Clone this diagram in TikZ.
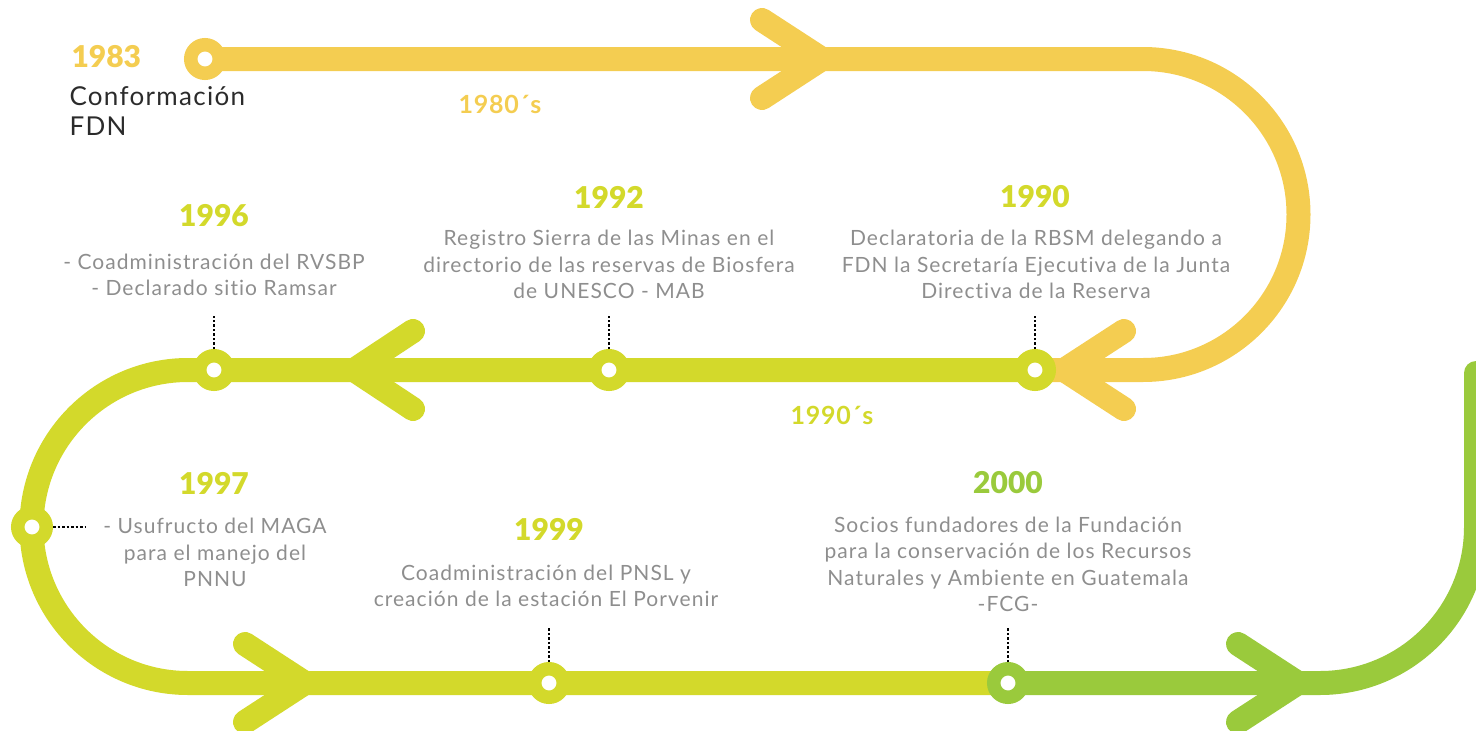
\documentclass[tikz,border=0pt]{standalone}
\usepackage{fontspec}
\setmainfont{Lato}
\newfontfamily\widefont{Lato}[LetterSpace=5, Ligatures=NoCommon]
\newfontfamily\decadefont{Lato}[LetterSpace=3]
\newfontfamily\heavyfont{Lato Black}
\usetikzlibrary{backgrounds}
\definecolor{cyel}{HTML}{F4CD51}
\definecolor{clime}{HTML}{D3D92B}
\definecolor{cgreen}{HTML}{9ACA3C}
\definecolor{ctext}{HTML}{8E8E8E}
\definecolor{cdark}{HTML}{2B2B2B}
\tikzstyle{track}=[line width=24pt]
\tikzstyle{chev}=[line width=24pt, line cap=round, line join=round]
\tikzstyle{ring}=[circle, fill=white, line width=13.5pt, minimum size=28.5pt, inner sep=0pt]
\tikzstyle{dotline}=[line width=2.5pt, dotted, black]
\tikzstyle{year}=[font=\heavyfont\fontsize{30}{30}\selectfont]
\tikzstyle{desc}=[align=center, text=ctext, font=\widefont\fontsize{21}{26.5}\selectfont]
\tikzstyle{decade}=[font=\decadefont\fontsize{25}{25}\selectfont\bfseries]

\begin{document}
\begin{tikzpicture}[x=1pt, y=-1pt]
\useasboundingbox (0,0) rectangle (1476,731);

\node[ring, draw=cyel] (c1983) at (205,59) {};
\node[ring, draw=clime] (c1990) at (1035,370) {};
\node[ring, draw=clime] (c1992) at (609,370) {};
\node[ring, draw=clime] (c1996) at (214,370) {};
\node[ring, draw=clime] (c1997) at (32,527) {};
\node[ring, draw=clime] (c1999) at (549,683) {};
\node[ring, draw=cgreen] (c2000) at (1008,683) {};

\coordinate (k1) at (1143,59);
\coordinate (k2) at (188,370);
\coordinate (k3) at (1320,683);
\coordinate (k4) at (1476,373);
\coordinate (a1) at (822,59);
\coordinate (a2) at (1064,370);
\coordinate (a3) at (354,370);
\coordinate (a4) at (305,683);
\coordinate (a5) at (1298,683);

\begin{scope}[on background layer]
\draw[track, cyel] (c1983.center) -- (k1) arc[start angle=-90, end angle=90, radius=155.5] -- (c1990.center);
\draw[track, clime] (c1990.center) -- (c1992.center) -- (c1996.center) -- (k2) arc[start angle=-90, end angle=-270, radius=156.5] -- (c1999.center) -- (c2000.center);
\draw[track, cgreen, line cap=round] (c2000.center) -- (k3) arc[start angle=90, end angle=0, radius=156] -- (k4);
\draw[chev, cyel] ([shift={(-60,-39)}]a1) -- (a1) -- ([shift={(-60,39)}]a1);
\draw[chev, cyel] ([shift={(60,-39)}]a2) -- (a2) -- ([shift={(60,39)}]a2);
\draw[chev, clime] ([shift={(59,-39)}]a3) -- (a3) -- ([shift={(59,39)}]a3);
\draw[chev, clime] ([shift={(-60,-39)}]a4) -- (a4) -- ([shift={(-60,39)}]a4);
\draw[chev, cgreen] ([shift={(-60,-39)}]a5) -- (a5) -- ([shift={(-60,39)}]a5);
\end{scope}

\coordinate (t1990) at (1035,316);
\coordinate (t1992) at (609,316);
\coordinate (t1996) at (214,316);
\coordinate (t1997) at (86,527);
\coordinate (t1999) at (549,628);
\coordinate (t2000) at (1008,627);
\draw[dotline] (c1990) -- (t1990);
\draw[dotline] (c1992) -- (t1992);
\draw[dotline] (c1996) -- (t1996);
\draw[dotline] (c1997) -- (t1997);
\draw[dotline] (c1999) -- (t1999);
\draw[dotline] (c2000) -- (t2000);

\node[year, text=cyel, anchor=west] (y1983) at (68,57) {1983};
\node[anchor=north west, align=left, text=cdark, font=\widefont\fontsize{26}{30}\selectfont] (d1983) at (66,83) {Conformación\\FDN};
\node[decade, text=cyel] (e1980) at (500,104) {1980´s};
\node[decade, text=clime] (e1990) at (832,415) {1990´s};

\node[year, text=clime] (y1990) at (1035,197) {1990};
\node[desc] (d1990) at (1036,264.5) {Declaratoria de la RBSM delegando a\\FDN la Secretaría Ejecutiva de la Junta\\Directiva de la Reserva};
\node[year, text=clime] (y1992) at (609,197) {1992};
\node[desc] (d1992) at (609,264.5) {Registro Sierra de las Minas en el\\directorio de las reservas de Biosfera\\de UNESCO - MAB};
\node[year, text=clime] (y1996) at (214,216) {1996};
\node[desc] (d1996) at (214,275) {- Coadministración del RVSBP\\- Declarado sitio Ramsar};
\node[year, text=clime] (y1997) at (214,483) {1997};
\node[desc] (d1997) at (215,552.5) {- Usufructo del MAGA\\para el manejo del\\PNNU};
\node[year, text=clime] (y1999) at (549,529) {1999};
\node[desc] (d1999) at (546,586) {Coadministración del PNSL y\\creación de la estación El Porvenir};
\node[year, text=cgreen] (y2000) at (1008,483) {2000};
\node[desc] (d2000) at (1008,564.5) {Socios fundadores de la Fundación\\para la conservación de los Recursos\\Naturales y Ambiente en Guatemala\\-FCG-};

\end{tikzpicture}
\end{document}
